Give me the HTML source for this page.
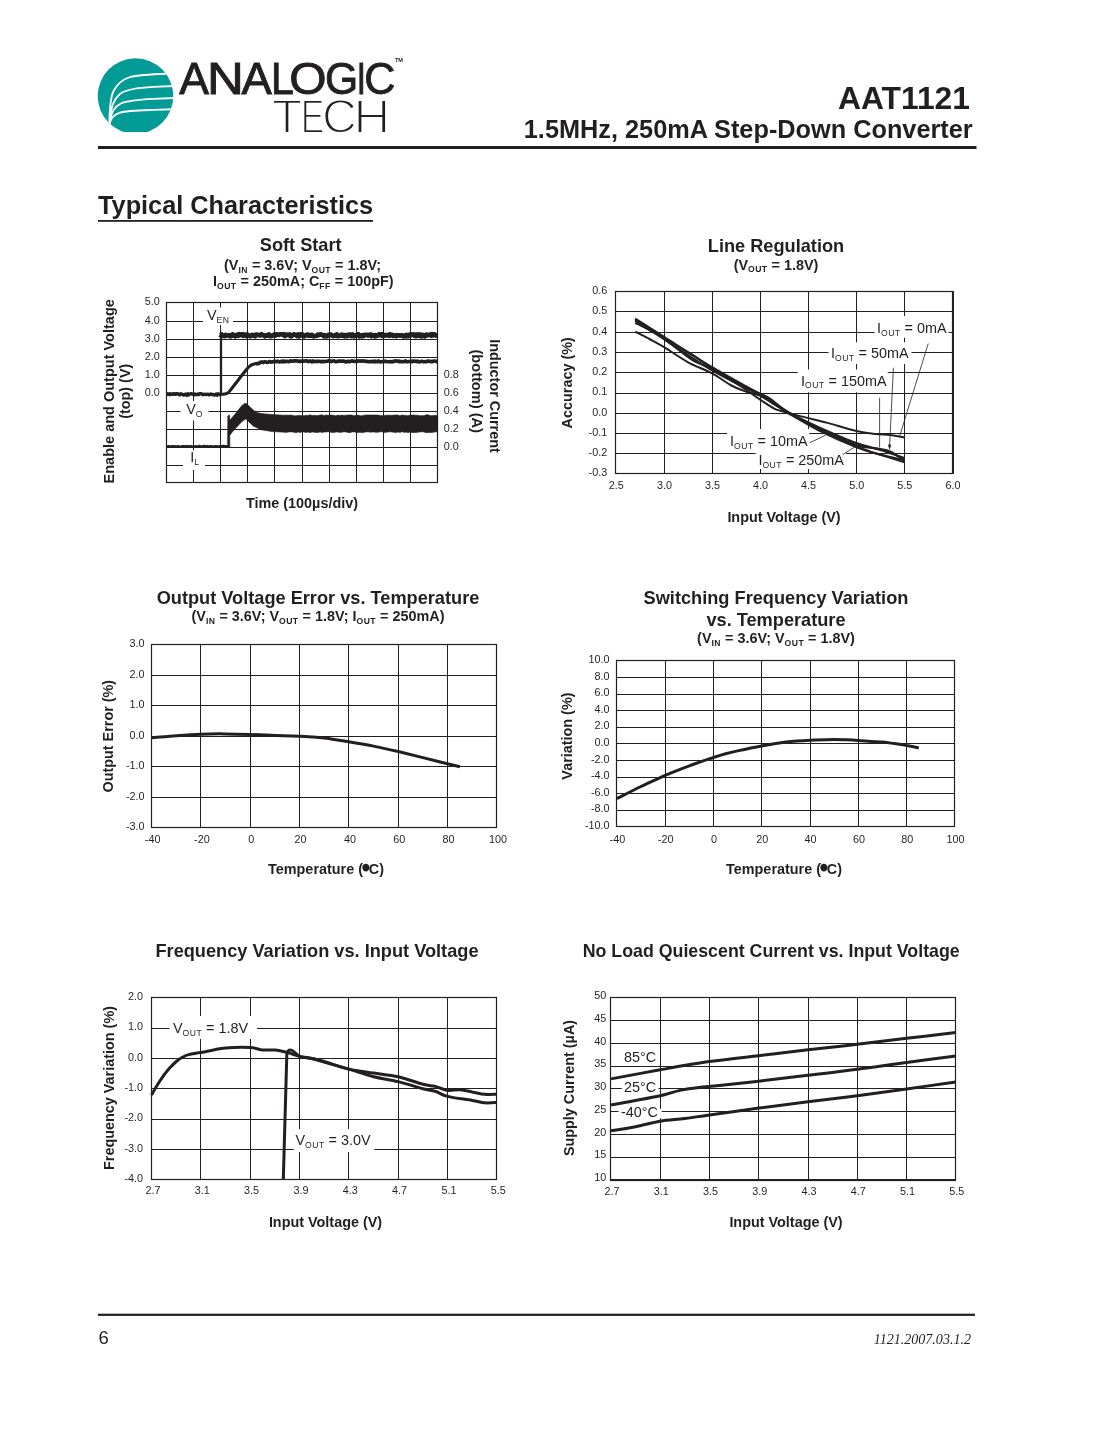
<!DOCTYPE html>
<html lang="en"><head><meta charset="utf-8"><title>AAT1121 Typical Characteristics</title>
<style>
html,body{margin:0;padding:0;background:#fff}
svg{display:block}
text{font-family:"Liberation Sans", sans-serif;fill:#231f20}
</style></head><body>
<svg width="1105" height="1430" viewBox="0 0 1105 1430">
<rect width="1105" height="1430" fill="#fff"/>
<defs><clipPath id="lc"><rect x="90" y="50" width="100" height="82"/></clipPath><clipPath id="lc2"><circle cx="135.5" cy="96.1" r="37.8"/></clipPath></defs>
<g clip-path="url(#lc)"><circle cx="135.5" cy="96.1" r="37.8" fill="#029b96"/>
<g clip-path="url(#lc2)" fill="none" stroke="#fff" stroke-width="1.8" stroke-linecap="round">
<path d="M109.3 123C109.6 108 110.5 97 113.6 91C117.5 83.5 123 79.3 130 77C141 74.3 155 74.2 175 73.4"/>
<path d="M110 119C110.6 108 113.5 99.5 119.9 94C127 88.8 139 87.6 153.3 86.9L176 85.9"/>
<path d="M110.2 121C111 112 115 106.5 120.8 103.5C128 100.4 140 99.6 153.3 98.9L176 97.9"/>
<path d="M109.8 124C110.5 118.5 114 114.6 119.9 112.6C126 110.7 139 110.4 153.3 109.9L176 109.2"/>
</g></g>
<text y="93.75" font-size="44" lengthAdjust="spacingAndGlyphs" stroke="#231f20" stroke-width="0.9"><tspan x="179.2" textLength="29.7" lengthAdjust="spacingAndGlyphs">A</tspan><tspan x="207.1" textLength="36.8" lengthAdjust="spacingAndGlyphs">N</tspan><tspan x="241.6" textLength="30.3" lengthAdjust="spacingAndGlyphs">A</tspan><tspan x="270.9" textLength="22.8" lengthAdjust="spacingAndGlyphs">L</tspan><tspan x="289.2" textLength="37.3" lengthAdjust="spacingAndGlyphs">O</tspan><tspan x="325.1" textLength="33.2" lengthAdjust="spacingAndGlyphs">G</tspan><tspan x="356.8" textLength="9.2" lengthAdjust="spacingAndGlyphs">I</tspan><tspan x="364.2" textLength="31.1" lengthAdjust="spacingAndGlyphs">C</tspan></text>
<text y="132.9" font-size="47.7" stroke="#fff" stroke-width="1.8"><tspan x="272.1" textLength="30.1" lengthAdjust="spacingAndGlyphs">T</tspan><tspan x="300.7" textLength="23.6" lengthAdjust="spacingAndGlyphs">E</tspan><tspan x="322.0" textLength="34.9" lengthAdjust="spacingAndGlyphs">C</tspan><tspan x="353.4" textLength="36.7" lengthAdjust="spacingAndGlyphs">H</tspan></text>
<text x="394.9" y="62.4" font-size="5.6" font-weight="bold">TM</text>
<text x="970" y="108.6" font-size="31.8" font-weight="bold" text-anchor="end">AAT1121</text>
<text x="972.7" y="137.7" font-size="25.3" font-weight="bold" text-anchor="end">1.5MHz, 250mA Step-Down Converter</text>
<rect x="98" y="146" width="878.5" height="3" fill="#231f20"/>
<text x="98" y="213.7" font-size="25.3" font-weight="bold">Typical Characteristics</text>
<rect x="98" y="220" width="275" height="1.8" fill="#231f20"/>
<rect x="98" y="1313.7" width="877" height="2.2" fill="#231f20"/>
<text x="98.6" y="1344.4" font-size="18.4">6</text>
<text x="971" y="1343.7" font-size="14.05" text-anchor="end" font-style="italic" style="font-family:'Liberation Serif',serif">1121.2007.03.1.2</text>
<text x="300.7" y="251" font-size="18.2" font-weight="bold" text-anchor="middle">Soft Start</text>
<text x="302.6" y="269.6" font-size="14.4" font-weight="bold" text-anchor="middle">(V<tspan font-size="8.6" dy="2.9" letter-spacing="0.45">IN</tspan><tspan dy="-2.9"> = 3.6V; V</tspan><tspan font-size="8.6" dy="2.9" letter-spacing="0.45">OUT</tspan><tspan dy="-2.9"> = 1.8V;</tspan></text>
<text x="303.3" y="285.8" font-size="14.4" font-weight="bold" text-anchor="middle">I<tspan font-size="8.6" dy="2.9" letter-spacing="0.45">OUT</tspan><tspan dy="-2.9"> = 250mA; C</tspan><tspan font-size="8.6" dy="2.9" letter-spacing="0.45">FF</tspan><tspan dy="-2.9"> = 100pF)</tspan></text>
<path d="M193.5 302.5V482.5M220.5 302.5V482.5M247.5 302.5V482.5M274.5 302.5V482.5M302.5 302.5V482.5M329.5 302.5V482.5M356.5 302.5V482.5M383.5 302.5V482.5M410.5 302.5V482.5M166.5 321.5H437.6M166.5 339.5H437.6M166.5 357.5H437.6M166.5 375.5H437.6M166.5 393.5H437.6M166.5 411.5H437.6M166.5 429.5H437.6M166.5 447.5H437.6M166.5 465.5H437.6" stroke="#231f20" stroke-width="1.0" fill="none"/>
<rect x="166.5" y="302.5" width="271" height="180" stroke="#231f20" stroke-width="1.2" fill="none"/>
<text x="159.7" y="304.7" font-size="10.8" text-anchor="end">5.0</text>
<text x="159.7" y="323.7" font-size="10.8" text-anchor="end">4.0</text>
<text x="159.7" y="341.7" font-size="10.8" text-anchor="end">3.0</text>
<text x="159.7" y="359.7" font-size="10.8" text-anchor="end">2.0</text>
<text x="159.7" y="377.7" font-size="10.8" text-anchor="end">1.0</text>
<text x="159.7" y="395.7" font-size="10.8" text-anchor="end">0.0</text>
<text x="443.8" y="377.7" font-size="10.8">0.8</text>
<text x="443.8" y="395.7" font-size="10.8">0.6</text>
<text x="443.8" y="413.7" font-size="10.8">0.4</text>
<text x="443.8" y="431.7" font-size="10.8">0.2</text>
<text x="443.8" y="449.7" font-size="10.8">0.0</text>
<rect x="203" y="307.5" width="30" height="17.5" fill="#fff"/>
<text x="207" y="320" font-size="14.4">V<tspan font-size="8.6" dy="2.9" letter-spacing="0.45">EN</tspan></text>
<rect x="180.5" y="401" width="28" height="19.5" fill="#fff"/>
<text x="186.2" y="413.8" font-size="14.4">V<tspan font-size="8.6" dy="2.9" letter-spacing="0.45">O</tspan></text>
<rect x="183" y="450.5" width="22" height="19.5" fill="#fff"/>
<text x="190.2" y="462.4" font-size="14.4">I<tspan font-size="8.6" dy="2.9" letter-spacing="0.45">L</tspan></text>
<path d="M166.5 394.1L167.5 393.8L168.5 394.6L169.5 393.7L170.5 394.5L171.5 394.2L172.6 393.7L173.6 394.4L174.6 393.7L175.6 394.3L176.6 393.7L177.6 393.7L178.6 394.3L179.6 394.9L180.6 393.8L181.6 394.0L182.6 394.6L183.7 395.1L184.7 394.5L185.7 394.2L186.7 395.2L187.7 393.7L188.7 395.0L189.7 394.1L190.7 393.8L191.7 393.8L192.7 394.1L193.8 394.9L194.8 393.9L195.8 394.5L196.8 394.6L197.8 394.2L198.8 394.5L199.8 393.7L200.8 393.7L201.8 393.9L202.8 394.7L203.8 394.3L204.9 394.1L205.9 394.5L206.9 394.3L207.9 394.1L208.9 394.9L209.9 394.7L210.9 394.0L211.9 394.5L212.9 394.4L213.9 395.0L214.9 394.8L216.0 394.1L217.0 395.2L218.0 393.8L219.0 394.3L220.0 394.8L221.0 394.4" stroke="#231f20" stroke-width="3.4" fill="none" stroke-linejoin="round"/>
<path d="M221 395V334" stroke="#231f20" stroke-width="2.3" fill="none"/>
<path d="M220.0 334.5L220.8 335.3L221.6 334.3L222.4 335.7L223.2 335.9L224.0 335.5L224.8 336.1L225.6 334.9L226.4 335.7L227.2 335.5L228.0 335.5L228.8 335.2L229.6 336.0L230.4 336.3L231.2 335.2L232.0 335.7L232.8 334.3L233.6 335.7L234.4 335.6L235.2 336.4L236.0 336.0L236.8 334.8L237.6 335.0L238.4 335.7L239.2 334.2L240.0 335.2L240.8 334.6L241.6 334.5L242.4 334.3L243.2 335.9L244.0 334.5L244.8 334.7L245.6 335.1L246.4 336.1L247.2 334.4L248.0 335.2L248.8 335.4L249.6 336.1L250.4 336.0L251.2 336.1L252.0 334.8L252.8 335.1L253.6 335.0L254.4 336.1L255.2 336.3L256.0 334.5L256.8 334.6L257.6 334.7L258.4 334.7L259.2 335.3L260.0 335.5L260.8 334.8L261.6 334.2L262.4 335.1L263.2 335.0L264.0 335.4L264.8 336.3L265.6 335.7L266.4 335.3L267.2 335.6L268.0 335.7L268.8 334.3L269.6 336.2L270.4 335.9L271.2 336.1L272.0 336.0L272.8 335.1L273.6 335.1L274.4 334.4L275.2 335.6L276.0 334.3L276.8 334.3L277.6 334.7L278.4 334.6L279.2 334.9L280.0 334.3L280.8 334.2L281.6 334.5L282.4 334.4L283.2 335.0L284.0 334.3L284.8 336.1L285.6 335.6L286.4 334.5L287.2 334.8L288.0 335.0L288.8 335.0L289.6 334.5L290.4 336.1L291.2 336.4L292.0 335.2L292.8 335.3L293.6 334.4L294.4 334.4L295.2 335.0L296.0 334.8L296.8 336.0L297.6 334.6L298.4 334.3L299.2 336.3L300.0 335.4L300.8 334.5L301.6 335.4L302.4 334.3L303.2 335.4L304.0 336.4L304.8 336.1L305.6 335.7L306.4 334.8L307.2 335.0L308.0 334.6L308.8 335.9L309.6 335.4L310.4 335.9L311.2 334.9L312.0 334.7L312.8 336.0L313.6 336.4L314.4 336.1L315.2 336.0L316.0 336.0L316.8 335.8L317.6 334.7L318.4 335.3L319.2 335.0L320.0 334.3L320.8 334.3L321.6 334.8L322.4 334.8L323.2 335.7L324.0 336.3L324.8 335.2L325.6 336.3L326.4 336.4L327.2 336.3L328.0 335.0L328.8 334.7L329.6 334.7L330.4 334.6L331.2 334.6L332.0 335.6L332.8 336.2L333.6 336.0L334.4 335.3L335.2 335.6L336.0 336.0L336.8 334.4L337.6 335.7L338.4 336.2L339.2 335.9L340.0 335.9L340.8 335.3L341.6 334.6L342.4 335.9L343.2 334.9L344.0 336.0L344.8 336.3L345.6 335.1L346.4 335.1L347.2 336.3L348.0 335.8L348.8 334.6L349.6 334.5L350.4 334.5L351.2 336.2L352.0 336.0L352.8 334.5L353.6 336.0L354.4 336.4L355.2 335.6L356.0 335.0L356.8 335.4L357.6 334.5L358.4 334.2L359.2 336.3L360.0 335.6L360.8 335.4L361.6 336.3L362.4 335.2L363.2 336.1L364.0 336.0L364.8 334.7L365.6 334.8L366.4 334.8L367.2 334.7L368.0 335.5L368.8 334.8L369.6 335.1L370.4 334.5L371.2 336.2L372.0 335.0L372.8 335.2L373.6 335.5L374.4 336.2L375.2 335.1L376.0 336.2L376.8 335.3L377.6 335.4L378.4 335.4L379.2 334.2L380.0 335.2L380.8 334.6L381.6 334.2L382.4 336.0L383.2 334.6L384.0 335.2L384.8 335.8L385.6 335.4L386.4 334.9L387.2 335.3L388.0 335.4L388.8 335.9L389.6 334.4L390.4 335.4L391.2 334.7L392.0 334.8L392.8 335.9L393.6 335.3L394.4 335.4L395.2 335.9L396.0 336.2L396.8 335.2L397.6 335.5L398.4 335.3L399.2 335.3L400.0 335.7L400.8 335.2L401.6 335.4L402.4 335.3L403.2 336.3L404.0 335.7L404.8 336.1L405.6 336.3L406.4 334.8L407.2 335.4L408.0 336.3L408.8 336.0L409.6 334.5L410.4 334.5L411.2 335.2L412.0 334.4L412.8 334.7L413.6 334.4L414.4 335.7L415.2 335.9L416.0 336.2L416.8 334.5L417.6 335.8L418.4 335.7L419.2 334.5L420.0 336.1L420.8 336.3L421.6 334.7L422.4 336.3L423.2 335.1L424.0 335.3L424.8 336.4L425.6 336.0L426.4 334.6L427.2 335.1L428.0 335.3L428.8 334.9L429.6 334.6L430.4 334.9L431.2 335.8L432.0 334.2L432.8 335.4L433.6 335.2L434.4 334.2L435.2 334.9L436.0 335.6L436.8 335.3L437.6 335.3" stroke="#231f20" stroke-width="4.6" fill="none" stroke-linejoin="round"/>
<path d="M220.0 394.2C220.8 394.2 223.7 394.2 225.0 394.0C226.3 393.8 227.1 393.5 228.0 392.8C228.9 392.1 227.4 393.9 230.5 390.0C233.6 386.1 243.2 373.5 246.5 369.5C249.8 365.5 248.9 366.9 250.0 366.0C251.1 365.1 252.0 364.8 253.0 364.4C254.0 364.0 255.2 363.7 256.0 363.5C256.8 363.3 257.7 363.2 258.0 363.1" stroke="#231f20" stroke-width="3.1" fill="none"/>
<path d="M256.0 363.0L257.0 363.9L258.0 363.5L259.0 363.5L260.0 362.3L261.0 362.3L262.0 361.9L263.0 362.6L264.0 362.0L265.0 361.8L266.0 362.0L267.0 362.5L268.0 362.3L269.0 361.6L270.0 361.5L271.0 362.2L272.0 361.8L273.0 361.9L274.0 361.2L275.0 361.1L276.0 361.8L277.0 361.5L278.0 361.1L279.0 362.0L280.0 361.7L281.0 361.8L282.0 361.0L283.0 361.8L284.0 361.0L285.0 361.8L286.0 361.3L287.0 361.2L288.0 361.4L289.0 361.8L290.0 361.0L291.0 360.9L292.0 361.3L293.0 361.0L294.0 360.9L295.0 360.9L296.0 360.8L297.0 361.0L298.0 361.1L299.0 361.1L300.0 361.6L301.0 361.1L302.0 361.3L303.1 361.0L304.1 361.2L305.1 360.8L306.1 361.0L307.1 360.8L308.1 361.6L309.1 361.4L310.1 361.0L311.1 361.3L312.1 361.8L313.1 360.9L314.1 361.7L315.1 361.3L316.1 361.3L317.1 361.7L318.1 361.2L319.1 361.3L320.1 361.5L321.1 361.9L322.1 361.2L323.1 361.7L324.1 361.6L325.1 361.5L326.1 361.2L327.2 361.2L328.2 360.9L329.2 360.9L330.2 360.9L331.2 361.6L332.2 361.1L333.2 361.0L334.2 360.9L335.2 361.7L336.2 361.8L337.2 361.6L338.2 361.1L339.2 361.1L340.2 361.1L341.2 361.3L342.2 361.0L343.2 361.3L344.2 361.1L345.2 361.9L346.2 361.9L347.2 361.4L348.2 361.1L349.2 361.9L350.2 361.2L351.2 361.2L352.3 360.8L353.3 361.3L354.3 361.4L355.3 361.4L356.3 361.1L357.3 361.4L358.3 360.8L359.3 361.1L360.3 360.9L361.3 361.3L362.3 360.9L363.3 360.9L364.3 361.2L365.3 361.1L366.3 361.5L367.3 361.4L368.3 361.7L369.3 361.6L370.3 361.6L371.3 361.8L372.3 361.3L373.3 361.2L374.3 361.9L375.3 361.0L376.4 361.7L377.4 361.6L378.4 360.9L379.4 361.8L380.4 361.9L381.4 361.6L382.4 361.7L383.4 361.8L384.4 361.0L385.4 361.5L386.4 361.4L387.4 361.8L388.4 361.8L389.4 361.8L390.4 361.5L391.4 361.9L392.4 361.6L393.4 361.7L394.4 361.1L395.4 360.9L396.4 361.0L397.4 361.3L398.4 361.0L399.4 361.8L400.4 361.5L401.5 361.6L402.5 361.6L403.5 361.7L404.5 361.4L405.5 360.9L406.5 361.8L407.5 361.7L408.5 361.5L409.5 361.5L410.5 361.6L411.5 361.0L412.5 361.7L413.5 361.2L414.5 361.0L415.5 361.2L416.5 361.7L417.5 361.1L418.5 361.7L419.5 362.0L420.5 361.5L421.5 361.3L422.5 361.5L423.5 361.7L424.5 361.8L425.6 361.6L426.6 361.6L427.6 361.0L428.6 361.1L429.6 361.2L430.6 361.8L431.6 361.3L432.6 361.6L433.6 361.0L434.6 361.0L435.6 361.2L436.6 361.7L437.6 361.5" stroke="#231f20" stroke-width="3.6" fill="none" stroke-linejoin="round"/>
<path d="M166.5 446.5L167.5 446.5L168.5 446.3L169.5 446.4L170.5 446.4L171.5 446.4L172.5 446.1L173.6 446.7L174.6 446.2L175.6 446.7L176.6 446.7L177.6 446.1L178.6 446.4L179.6 446.6L180.6 446.7L181.6 446.4L182.6 446.2L183.6 446.2L184.6 446.7L185.7 446.2L186.7 446.5L187.7 446.1L188.7 446.4L189.7 446.7L190.7 446.1L191.7 446.6L192.7 446.4L193.7 446.7L194.7 446.5L195.7 446.2L196.7 446.7L197.8 446.4L198.8 446.1L199.8 446.1L200.8 446.4L201.8 446.4L202.8 446.3L203.8 446.1L204.8 446.3L205.8 446.3L206.8 446.6L207.8 446.1L208.8 446.6L209.8 446.6L210.9 446.1L211.9 446.7L212.9 446.5L213.9 446.7L214.9 446.3L215.9 446.3L216.9 446.3L217.9 446.7L218.9 446.5L219.9 446.3L220.9 446.3L221.9 446.2L223.0 446.1L224.0 446.1L225.0 446.6L226.0 446.2L227.0 446.7L228.0 446.2L229.0 446.4" stroke="#231f20" stroke-width="2.5" fill="none" stroke-linejoin="round"/>
<path d="M227.6 447.6L227.8 416.0L229.6 415.0L229.8 420.0L231.5 418.3L236.0 413.0L241.0 406.5L244.5 403.4L246.5 403.6L250.0 407.0L255.6 412.0L260.0 413.3L265.7 413.9L275.0 414.7L284.6 415.2L286.0 415.1L288.0 415.3L290.0 415.0L292.0 415.2L294.0 415.8L296.0 415.7L298.0 415.6L300.0 415.4L302.0 415.7L304.0 415.7L306.0 415.3L308.0 415.5L310.0 414.8L312.0 415.5L314.0 415.3L316.0 415.6L318.0 415.4L320.0 415.1L322.0 414.8L324.0 415.7L326.0 414.9L328.0 415.3L330.0 415.1L332.0 415.1L334.0 415.5L336.0 415.8L338.0 415.1L340.0 415.5L342.0 415.1L344.0 415.4L346.0 415.2L348.0 415.0L350.0 415.0L352.0 415.0L354.0 415.7L356.0 415.3L358.0 415.0L360.0 415.7L362.0 415.8L364.0 415.2L366.0 414.9L368.0 415.0L370.0 414.9L372.0 415.1L374.0 414.9L376.0 415.0L378.0 415.1L380.0 415.4L382.0 415.7L384.0 415.5L386.0 415.2L388.0 415.2L390.0 415.3L392.0 415.2L394.0 415.1L396.0 414.9L398.0 415.1L400.0 415.8L402.0 414.9L404.0 415.3L406.0 415.4L408.0 415.7L410.0 415.0L412.0 415.1L414.0 415.0L416.0 415.2L418.0 415.2L420.0 415.8L422.0 415.6L424.0 415.7L426.0 414.8L428.0 414.8L430.0 415.5L432.0 415.7L434.0 415.3L436.0 415.4L437.6 415.3L437.6 432.2L436.0 431.7L434.0 432.1L432.0 432.6L430.0 432.5L428.0 432.6L426.0 432.7L424.0 431.9L422.0 431.8L420.0 431.9L418.0 432.2L416.0 432.4L414.0 432.6L412.0 432.4L410.0 432.3L408.0 432.5L406.0 432.2L404.0 432.3L402.0 431.7L400.0 432.5L398.0 431.9L396.0 432.6L394.0 432.3L392.0 432.0L390.0 431.8L388.0 432.0L386.0 432.3L384.0 432.4L382.0 431.8L380.0 431.8L378.0 432.2L376.0 432.3L374.0 432.1L372.0 431.9L370.0 432.3L368.0 431.7L366.0 432.0L364.0 432.2L362.0 432.7L360.0 432.3L358.0 432.6L356.0 432.2L354.0 431.9L352.0 431.9L350.0 432.7L348.0 432.4L346.0 432.0L344.0 431.7L342.0 432.2L340.0 432.4L338.0 432.1L336.0 432.0L334.0 432.4L332.0 432.6L330.0 431.9L328.0 431.7L326.0 432.0L324.0 432.1L322.0 432.4L320.0 431.9L318.0 432.5L316.0 432.4L314.0 432.2L312.0 431.9L310.0 432.7L308.0 432.0L306.0 432.5L304.0 431.9L302.0 431.9L300.0 432.5L298.0 432.0L296.0 432.7L294.0 432.2L292.0 431.9L290.0 431.9L288.0 432.1L286.0 432.4L284.6 432.2L272.0 431.6L260.7 429.7L253.1 425.9L248.0 421.0L245.6 419.0L242.0 421.5L235.5 428.4L231.5 433.0L229.8 435.5L229.8 447.6Z" fill="#231f20" stroke="#231f20" stroke-width="0.6" stroke-linejoin="round"/>
<text font-size="14.5" font-weight="bold" text-anchor="middle" transform="translate(113.8 391.3) rotate(-90)">Enable and Output Voltage</text>
<text font-size="14.4" font-weight="bold" text-anchor="middle" transform="translate(130.3 391.3) rotate(-90)">(top) (V)</text>
<text font-size="14.4" font-weight="bold" text-anchor="middle" transform="translate(489.5 396) rotate(90)">Inductor Current</text>
<text font-size="14.6" font-weight="bold" text-anchor="middle" transform="translate(471.8 391.2) rotate(90)">(bottom) (A)</text>
<text x="302" y="507.5" font-size="14.4" font-weight="bold" text-anchor="middle">Time (100µs/div)</text>
<text x="776" y="252" font-size="18.2" font-weight="bold" text-anchor="middle">Line Regulation</text>
<text x="776" y="269.5" font-size="14.4" font-weight="bold" text-anchor="middle">(V<tspan font-size="8.6" dy="2.9" letter-spacing="0.45">OUT</tspan><tspan dy="-2.9"> = 1.8V)</tspan></text>
<path d="M664.5 291.5V473.5M712.5 291.5V473.5M760.5 291.5V473.5M808.5 291.5V473.5M856.5 291.5V473.5M904.5 291.5V473.5M616 311.5H952.6M616 332.5H952.6M616 352.5H952.6M616 372.5H952.6M616 393.5H952.6M616 413.5H952.6M616 433.5H952.6M616 453.5H952.6" stroke="#231f20" stroke-width="1.0" fill="none"/>
<rect x="615.5" y="291.5" width="337" height="182" stroke="#231f20" stroke-width="1.2" fill="none"/>
<text x="607.2" y="476.2" font-size="10.8" text-anchor="end">-0.3</text>
<text x="607.2" y="456" font-size="10.8" text-anchor="end">-0.2</text>
<text x="607.2" y="435.8" font-size="10.8" text-anchor="end">-0.1</text>
<text x="607.2" y="415.5" font-size="10.8" text-anchor="end">0.0</text>
<text x="607.2" y="395.3" font-size="10.8" text-anchor="end">0.1</text>
<text x="607.2" y="375.1" font-size="10.8" text-anchor="end">0.2</text>
<text x="607.2" y="354.9" font-size="10.8" text-anchor="end">0.3</text>
<text x="607.2" y="334.6" font-size="10.8" text-anchor="end">0.4</text>
<text x="607.2" y="314.4" font-size="10.8" text-anchor="end">0.5</text>
<text x="607.2" y="294.2" font-size="10.8" text-anchor="end">0.6</text>
<path d="M953 291V474" stroke="#231f20" stroke-width="2"/>
<text x="616.2" y="489.1" font-size="10.8" text-anchor="middle">2.5</text>
<text x="664.4" y="489.1" font-size="10.8" text-anchor="middle">3.0</text>
<text x="712.4" y="489.1" font-size="10.8" text-anchor="middle">3.5</text>
<text x="760.5" y="489.1" font-size="10.8" text-anchor="middle">4.0</text>
<text x="808.6" y="489.1" font-size="10.8" text-anchor="middle">4.5</text>
<text x="856.8" y="489.1" font-size="10.8" text-anchor="middle">5.0</text>
<text x="904.8" y="489.1" font-size="10.8" text-anchor="middle">5.5</text>
<text x="952.9" y="489.1" font-size="10.8" text-anchor="middle">6.0</text>
<rect x="874.6" y="316" width="73.9" height="21.7" fill="#fff"/>
<rect x="828.5" y="342.3" width="83" height="21.7" fill="#fff"/>
<rect x="797.7" y="369.5" width="90" height="22.8" fill="#fff"/>
<rect x="727.2" y="429" width="82" height="21.7" fill="#fff"/>
<rect x="755.7" y="449" width="90.3" height="20" fill="#fff"/>
<path d="M928.2 343.6L899.6 436.3" stroke="#231f20" stroke-width="0.8" fill="none"/>
<path d="M893.4 367.7L889.6 446" stroke="#231f20" stroke-width="0.8" fill="none"/>
<path d="M888 444.6L889.5 450.2L891.2 444.8Z" fill="#231f20"/>
<path d="M879.6 397.8L879.6 447.4" stroke="#231f20" stroke-width="0.8" fill="none"/>
<path d="M810 442.7L825.5 435.2" stroke="#231f20" stroke-width="0.8" fill="none"/>
<path d="M842.6 454.7L854.6 447.1" stroke="#231f20" stroke-width="0.8" fill="none"/>
<path d="M635.2 331.7C637.6 333.0 644.8 336.5 649.6 339.0C654.4 341.6 657.6 343.2 664.1 347.1C670.5 351.0 680.1 357.9 688.1 362.3C696.1 366.7 704.9 369.5 712.1 373.4C719.4 377.3 725.8 382.5 731.4 385.5C737.0 388.6 741.0 389.9 745.8 391.6C750.6 393.3 755.4 393.5 760.2 395.6C765.1 397.8 769.9 401.9 774.7 404.7C779.5 407.6 784.3 410.8 789.1 412.8C793.9 414.9 797.1 415.2 803.5 416.9C810.0 418.6 818.8 420.6 827.6 422.9C836.4 425.3 848.4 429.2 856.5 431.0C864.5 432.9 870.1 433.4 875.7 434.1C881.3 434.7 885.3 434.5 890.1 435.1C894.9 435.7 902.1 437.1 904.5 437.5" stroke="#231f20" stroke-width="2.0" fill="none" stroke-linecap="butt" stroke-linejoin="round"/>
<path d="M635.2 318.8C640.0 321.8 651.2 328.9 664.1 337.0C676.9 345.1 696.1 357.7 712.1 367.3C728.2 376.9 747.4 387.1 760.2 394.6C773.1 402.2 779.5 407.4 789.1 412.8C798.7 418.2 806.7 421.9 818.0 427.0C829.2 432.0 845.2 439.1 856.5 443.2C867.7 447.2 877.3 448.7 885.3 451.3C893.3 453.8 901.3 457.2 904.5 458.3" stroke="#231f20" stroke-width="2.3" fill="none" stroke-linecap="butt" stroke-linejoin="round"/>
<path d="M635.2 319.8C640.0 322.8 654.4 332.1 664.1 338.0C673.7 343.9 684.9 350.1 692.9 355.2C700.9 360.3 704.1 363.5 712.1 368.3C720.2 373.2 733.0 380.3 741.0 384.5C749.0 388.7 755.4 391.3 760.2 393.6C765.1 396.0 765.1 395.5 769.9 398.7C774.7 401.9 781.1 407.9 789.1 412.8C797.1 417.7 806.7 422.6 818.0 428.0C829.2 433.4 846.8 441.8 856.5 445.2C866.1 448.6 870.1 447.2 875.7 448.2C881.3 449.2 885.3 449.1 890.1 451.3C894.9 453.4 902.1 459.7 904.5 461.4" stroke="#231f20" stroke-width="2.0" fill="none" stroke-linecap="butt" stroke-linejoin="round"/>
<path d="M635.2 322.8C638.4 324.5 648.0 329.1 654.4 333.0C660.8 336.8 667.3 341.6 673.7 346.1C680.1 350.7 686.5 356.4 692.9 360.3C699.3 364.1 704.1 365.0 712.1 369.4C720.2 373.7 733.0 381.5 741.0 386.5C749.0 391.6 754.6 396.0 760.2 399.7C765.9 403.4 769.9 406.4 774.7 408.8C779.5 411.1 781.9 410.3 789.1 413.8C796.3 417.4 806.7 424.5 818.0 430.0C829.2 435.6 845.2 442.8 856.5 447.2C867.7 451.6 877.3 453.8 885.3 456.3C893.3 458.8 901.3 461.4 904.5 462.4" stroke="#231f20" stroke-width="2.0" fill="none" stroke-linecap="butt" stroke-linejoin="round"/>
<path d="M635.2 320.8C640.0 323.9 651.2 330.8 664.1 339.0C676.9 347.3 696.1 360.9 712.1 370.4C728.2 379.8 747.4 388.5 760.2 395.6C773.1 402.8 779.5 407.7 789.1 413.2C798.7 418.8 806.7 423.5 818.0 429.0C829.2 434.5 846.8 442.2 856.5 446.2C866.1 450.2 867.7 450.9 875.7 453.3C883.7 455.6 899.7 459.2 904.5 460.4" stroke="#231f20" stroke-width="2.0" fill="none" stroke-linecap="butt" stroke-linejoin="round"/>
<text x="877" y="332.6" font-size="14.4">I<tspan font-size="8.6" dy="2.9" letter-spacing="0.45">OUT</tspan><tspan dy="-2.9"> = 0mA</tspan></text>
<text x="831" y="357.7" font-size="14.4">I<tspan font-size="8.6" dy="2.9" letter-spacing="0.45">OUT</tspan><tspan dy="-2.9"> = 50mA</tspan></text>
<text x="801" y="385.5" font-size="14.4">I<tspan font-size="8.6" dy="2.9" letter-spacing="0.45">OUT</tspan><tspan dy="-2.9"> = 150mA</tspan></text>
<text x="730" y="446.4" font-size="14.4">I<tspan font-size="8.6" dy="2.9" letter-spacing="0.45">OUT</tspan><tspan dy="-2.9"> = 10mA</tspan></text>
<text x="758.4" y="465" font-size="14.4">I<tspan font-size="8.6" dy="2.9" letter-spacing="0.45">OUT</tspan><tspan dy="-2.9"> = 250mA</tspan></text>
<text font-size="14.4" font-weight="bold" text-anchor="middle" transform="translate(572.2 382.8) rotate(-90)">Accuracy (%)</text>
<text x="784" y="522" font-size="14.4" font-weight="bold" text-anchor="middle">Input Voltage (V)</text>
<text x="318" y="604" font-size="18.2" font-weight="bold" text-anchor="middle">Output Voltage Error vs. Temperature</text>
<text x="318" y="621" font-size="14.4" font-weight="bold" text-anchor="middle">(V<tspan font-size="8.6" dy="2.9" letter-spacing="0.45">IN</tspan><tspan dy="-2.9"> = 3.6V; V</tspan><tspan font-size="8.6" dy="2.9" letter-spacing="0.45">OUT</tspan><tspan dy="-2.9"> = 1.8V; I</tspan><tspan font-size="8.6" dy="2.9" letter-spacing="0.45">OUT</tspan><tspan dy="-2.9"> = 250mA)</tspan></text>
<path d="M200.5 644.8V827.8M250.5 644.8V827.8M299.5 644.8V827.8M348.5 644.8V827.8M398.5 644.8V827.8M447.5 644.8V827.8M151.6 675.5H496.9M151.6 705.5H496.9M151.6 736.5H496.9M151.6 766.5H496.9M151.6 797.5H496.9" stroke="#231f20" stroke-width="1.0" fill="none"/>
<rect x="151.5" y="644.5" width="345" height="183" stroke="#231f20" stroke-width="1.2" fill="none"/>
<text x="144.6" y="830" font-size="10.8" text-anchor="end">-3.0</text>
<text x="144.6" y="799.5" font-size="10.8" text-anchor="end">-2.0</text>
<text x="144.6" y="769" font-size="10.8" text-anchor="end">-1.0</text>
<text x="144.6" y="738.5" font-size="10.8" text-anchor="end">0.0</text>
<text x="144.6" y="708" font-size="10.8" text-anchor="end">1.0</text>
<text x="144.6" y="677.5" font-size="10.8" text-anchor="end">2.0</text>
<text x="144.6" y="647" font-size="10.8" text-anchor="end">3.0</text>
<text x="152.6" y="842.9" font-size="10.8" text-anchor="middle">-40</text>
<text x="201.9" y="842.9" font-size="10.8" text-anchor="middle">-20</text>
<text x="251.3" y="842.9" font-size="10.8" text-anchor="middle">0</text>
<text x="300.6" y="842.9" font-size="10.8" text-anchor="middle">20</text>
<text x="349.9" y="842.9" font-size="10.8" text-anchor="middle">40</text>
<text x="399.2" y="842.9" font-size="10.8" text-anchor="middle">60</text>
<text x="448.6" y="842.9" font-size="10.8" text-anchor="middle">80</text>
<text x="497.9" y="842.9" font-size="10.8" text-anchor="middle">100</text>
<path d="M151.6 737.8C155.7 737.5 168.0 736.3 176.3 735.7C184.5 735.1 192.7 734.5 200.9 734.2C209.1 733.9 217.4 733.8 225.6 733.9C233.8 733.9 242.0 734.2 250.3 734.5C258.5 734.7 266.7 735.1 274.9 735.4C283.1 735.7 293.4 736.0 299.6 736.3C305.8 736.6 307.8 736.6 311.9 736.9C316.0 737.2 318.1 737.3 324.2 738.1C330.4 738.9 340.7 740.5 348.9 741.8C357.1 743.1 365.4 744.4 373.6 746.1C381.8 747.7 390.0 749.6 398.2 751.5C406.5 753.5 412.6 755.1 422.9 757.6C433.2 760.2 453.7 765.3 459.9 766.8" stroke="#231f20" stroke-width="3.0" fill="none" stroke-linecap="butt" stroke-linejoin="round"/>
<text font-size="14.4" font-weight="bold" text-anchor="middle" transform="translate(113.4 736.2) rotate(-90)">Output Error (%)</text>
<text x="326" y="873.5" font-size="14.4" font-weight="bold" text-anchor="middle">Temperature (<tspan stroke="#231f20" stroke-width="2.7" dy="2.4">°</tspan><tspan dy="-2.4">C)</tspan></text>
<text x="776" y="604" font-size="18.2" font-weight="bold" text-anchor="middle">Switching Frequency Variation</text>
<text x="776" y="626" font-size="18.2" font-weight="bold" text-anchor="middle">vs. Temperature</text>
<text x="776" y="643" font-size="14.4" font-weight="bold" text-anchor="middle">(V<tspan font-size="8.6" dy="2.9" letter-spacing="0.45">IN</tspan><tspan dy="-2.9"> = 3.6V; V</tspan><tspan font-size="8.6" dy="2.9" letter-spacing="0.45">OUT</tspan><tspan dy="-2.9"> = 1.8V)</tspan></text>
<path d="M665.5 660.8V826.8M713.5 660.8V826.8M761.5 660.8V826.8M810.5 660.8V826.8M858.5 660.8V826.8M906.5 660.8V826.8M616.9 677.5H955M616.9 694.5H955M616.9 710.5H955M616.9 727.5H955M616.9 743.5H955M616.9 760.5H955M616.9 777.5H955M616.9 793.5H955M616.9 810.5H955" stroke="#231f20" stroke-width="1.0" fill="none"/>
<rect x="616.5" y="660.5" width="338" height="166" stroke="#231f20" stroke-width="1.2" fill="none"/>
<text x="609.5" y="828.9" font-size="10.8" text-anchor="end">-10.0</text>
<text x="609.5" y="812.3" font-size="10.8" text-anchor="end">-8.0</text>
<text x="609.5" y="795.7" font-size="10.8" text-anchor="end">-6.0</text>
<text x="609.5" y="779.1" font-size="10.8" text-anchor="end">-4.0</text>
<text x="609.5" y="762.5" font-size="10.8" text-anchor="end">-2.0</text>
<text x="609.5" y="745.9" font-size="10.8" text-anchor="end">0.0</text>
<text x="609.5" y="729.3" font-size="10.8" text-anchor="end">2.0</text>
<text x="609.5" y="712.7" font-size="10.8" text-anchor="end">4.0</text>
<text x="609.5" y="696.1" font-size="10.8" text-anchor="end">6.0</text>
<text x="609.5" y="679.5" font-size="10.8" text-anchor="end">8.0</text>
<text x="609.5" y="662.9" font-size="10.8" text-anchor="end">10.0</text>
<text x="617.4" y="842.9" font-size="10.8" text-anchor="middle">-40</text>
<text x="665.7" y="842.9" font-size="10.8" text-anchor="middle">-20</text>
<text x="714" y="842.9" font-size="10.8" text-anchor="middle">0</text>
<text x="762.3" y="842.9" font-size="10.8" text-anchor="middle">20</text>
<text x="810.6" y="842.9" font-size="10.8" text-anchor="middle">40</text>
<text x="858.9" y="842.9" font-size="10.8" text-anchor="middle">60</text>
<text x="907.2" y="842.9" font-size="10.8" text-anchor="middle">80</text>
<text x="955.5" y="842.9" font-size="10.8" text-anchor="middle">100</text>
<path d="M616.9 798.6C620.9 796.6 633.0 790.4 641.0 786.5C649.1 782.7 657.1 778.8 665.2 775.3C673.2 771.9 681.3 768.8 689.3 765.8C697.4 762.8 707.5 759.5 713.5 757.5C719.5 755.5 721.5 754.9 725.6 753.8C729.6 752.7 731.6 752.2 737.6 750.9C743.7 749.5 753.7 747.3 761.8 745.9C769.8 744.4 777.9 743.1 785.9 742.1C794.0 741.2 802.0 740.7 810.1 740.3C818.1 739.9 828.2 739.7 834.2 739.6C840.3 739.6 842.3 739.7 846.3 739.8C850.3 740.0 852.4 740.1 858.4 740.5C864.4 740.9 876.5 741.6 882.5 742.1C888.6 742.7 890.6 743.1 894.6 743.6C898.6 744.2 902.7 744.7 906.7 745.5C910.7 746.2 916.8 747.5 918.8 747.9" stroke="#231f20" stroke-width="3.0" fill="none" stroke-linecap="butt" stroke-linejoin="round"/>
<text font-size="14.4" font-weight="bold" text-anchor="middle" transform="translate(572.3 736.1) rotate(-90)">Variation (%)</text>
<text x="784" y="873.5" font-size="14.4" font-weight="bold" text-anchor="middle">Temperature (<tspan stroke="#231f20" stroke-width="2.7" dy="2.4">°</tspan><tspan dy="-2.4">C)</tspan></text>
<text x="317" y="957" font-size="18.2" font-weight="bold" text-anchor="middle">Frequency Variation vs. Input Voltage</text>
<path d="M200.5 997.8V1179.9M250.5 997.8V1179.9M299.5 997.8V1179.9M348.5 997.8V1179.9M398.5 997.8V1179.9M447.5 997.8V1179.9M151.6 1028.5H496.9M151.6 1058.5H496.9M151.6 1088.5H496.9M151.6 1119.5H496.9M151.6 1149.5H496.9" stroke="#231f20" stroke-width="1.0" fill="none"/>
<rect x="151.5" y="997.5" width="345" height="182" stroke="#231f20" stroke-width="1.2" fill="none"/>
<text x="143.1" y="1182" font-size="10.8" text-anchor="end">-4.0</text>
<text x="143.1" y="1151.7" font-size="10.8" text-anchor="end">-3.0</text>
<text x="143.1" y="1121.3" font-size="10.8" text-anchor="end">-2.0</text>
<text x="143.1" y="1090.9" font-size="10.8" text-anchor="end">-1.0</text>
<text x="143.1" y="1060.6" font-size="10.8" text-anchor="end">0.0</text>
<text x="143.1" y="1030.2" font-size="10.8" text-anchor="end">1.0</text>
<text x="143.1" y="999.9" font-size="10.8" text-anchor="end">2.0</text>
<text x="152.9" y="1194" font-size="10.8" text-anchor="middle">2.7</text>
<text x="202.2" y="1194" font-size="10.8" text-anchor="middle">3.1</text>
<text x="251.6" y="1194" font-size="10.8" text-anchor="middle">3.5</text>
<text x="300.9" y="1194" font-size="10.8" text-anchor="middle">3.9</text>
<text x="350.2" y="1194" font-size="10.8" text-anchor="middle">4.3</text>
<text x="399.5" y="1194" font-size="10.8" text-anchor="middle">4.7</text>
<text x="448.9" y="1194" font-size="10.8" text-anchor="middle">5.1</text>
<text x="498.2" y="1194" font-size="10.8" text-anchor="middle">5.5</text>
<rect x="169.5" y="1016" width="87.5" height="23" fill="#fff"/>
<rect x="293.8" y="1129" width="80.5" height="23" fill="#fff"/>
<path d="M151.6 1094.9C152.6 1093.1 155.7 1087.6 157.8 1084.3C159.8 1081.0 161.9 1078.0 163.9 1075.2C166.0 1072.4 168.0 1069.9 170.1 1067.6C172.2 1065.3 174.2 1063.3 176.3 1061.5C178.3 1059.8 180.4 1058.4 182.4 1057.3C184.5 1056.1 185.5 1055.4 188.6 1054.6C191.7 1053.7 196.8 1053.2 200.9 1052.4C205.0 1051.7 209.1 1050.8 213.3 1050.0C217.4 1049.2 219.4 1048.3 225.6 1047.9C231.8 1047.5 244.1 1047.2 250.3 1047.6C256.4 1047.9 258.5 1049.6 262.6 1050.0C266.7 1050.4 270.8 1049.6 274.9 1050.0C279.0 1050.4 283.1 1051.4 287.3 1052.4C291.4 1053.5 295.5 1055.4 299.6 1056.4C303.7 1057.4 307.8 1057.6 311.9 1058.5C316.0 1059.4 318.1 1059.8 324.2 1061.5C330.4 1063.3 340.7 1067.2 348.9 1069.1C357.1 1071.0 365.4 1071.8 373.6 1073.1C381.8 1074.3 390.0 1074.8 398.2 1076.7C406.5 1078.6 416.7 1082.7 422.9 1084.3C429.1 1085.9 431.1 1085.4 435.2 1086.4C439.3 1087.4 443.5 1089.8 447.6 1090.4C451.7 1090.9 455.8 1089.5 459.9 1089.8C464.0 1090.0 468.1 1091.1 472.2 1091.9C476.3 1092.6 480.5 1093.9 484.6 1094.3C488.7 1094.7 494.8 1094.3 496.9 1094.3" stroke="#231f20" stroke-width="3.0" fill="none" stroke-linecap="butt" stroke-linejoin="round"/>
<path d="M311.9 1058.5C314.0 1059.1 318.1 1060.4 324.2 1062.1C330.4 1063.9 340.7 1066.7 348.9 1069.1C357.1 1071.6 365.4 1074.6 373.6 1076.7C381.8 1078.8 390.0 1079.5 398.2 1081.6C406.5 1083.6 416.7 1087.2 422.9 1088.8C429.1 1090.5 431.1 1090.0 435.2 1091.3C439.3 1092.5 441.4 1094.9 447.6 1096.4C453.7 1098.0 466.1 1099.3 472.2 1100.4C478.4 1101.4 480.5 1102.5 484.6 1102.8C488.7 1103.2 494.8 1102.6 496.9 1102.5" stroke="#231f20" stroke-width="3.0" fill="none" stroke-linecap="butt" stroke-linejoin="round"/>
<path d="M283.3 1179.9L286.8 1054.9Q288.1 1047.1 294.0 1051.8L299.6 1056.7L311.9 1058.5" stroke="#231f20" stroke-width="3" fill="none" stroke-linejoin="round"/>
<text x="173" y="1033" font-size="14.4">V<tspan font-size="8.6" dy="2.9" letter-spacing="0.45">OUT</tspan><tspan dy="-2.9"> = 1.8V</tspan></text>
<text x="295.5" y="1145" font-size="14.4">V<tspan font-size="8.6" dy="2.9" letter-spacing="0.45">OUT</tspan><tspan dy="-2.9"> = 3.0V</tspan></text>
<text font-size="14.4" font-weight="bold" text-anchor="middle" transform="translate(113.5 1088) rotate(-90)">Frequency Variation (%)</text>
<text x="325.5" y="1227" font-size="14.4" font-weight="bold" text-anchor="middle">Input Voltage (V)</text>
<text x="771.2" y="956.8" font-size="17.8" font-weight="bold" text-anchor="middle">No Load Quiescent Current vs. Input Voltage</text>
<path d="M660.5 997.8V1180M709.5 997.8V1180M758.5 997.8V1180M808.5 997.8V1180M857.5 997.8V1180M906.5 997.8V1180M611 1020.5H955.8M611 1043.5H955.8M611 1066.5H955.8M611 1088.5H955.8M611 1111.5H955.8M611 1134.5H955.8M611 1157.5H955.8" stroke="#231f20" stroke-width="1.0" fill="none"/>
<rect x="610.5" y="997.5" width="345" height="183" stroke="#231f20" stroke-width="1.2" fill="none"/>
<text x="606.2" y="1181.1" font-size="10.8" text-anchor="end">10</text>
<text x="606.2" y="1158.4" font-size="10.8" text-anchor="end">15</text>
<text x="606.2" y="1135.6" font-size="10.8" text-anchor="end">20</text>
<text x="606.2" y="1112.8" font-size="10.8" text-anchor="end">25</text>
<text x="606.2" y="1090" font-size="10.8" text-anchor="end">30</text>
<text x="606.2" y="1067.2" font-size="10.8" text-anchor="end">35</text>
<text x="606.2" y="1044.5" font-size="10.8" text-anchor="end">40</text>
<text x="606.2" y="1021.7" font-size="10.8" text-anchor="end">45</text>
<text x="606.2" y="998.9" font-size="10.8" text-anchor="end">50</text>
<path d="M610 1180H956" stroke="#231f20" stroke-width="2"/>
<text x="612" y="1195" font-size="10.8" text-anchor="middle">2.7</text>
<text x="661.2" y="1195" font-size="10.8" text-anchor="middle">3.1</text>
<text x="710.5" y="1195" font-size="10.8" text-anchor="middle">3.5</text>
<text x="759.8" y="1195" font-size="10.8" text-anchor="middle">3.9</text>
<text x="809" y="1195" font-size="10.8" text-anchor="middle">4.3</text>
<text x="858.3" y="1195" font-size="10.8" text-anchor="middle">4.7</text>
<text x="907.6" y="1195" font-size="10.8" text-anchor="middle">5.1</text>
<text x="956.8" y="1195" font-size="10.8" text-anchor="middle">5.5</text>
<rect x="621.8" y="1084" width="36.7" height="8" fill="#fff"/>
<rect x="618.6" y="1108.8" width="43.1" height="9.4" fill="#fff"/>
<path d="M611.0 1078.9C619.2 1077.4 643.8 1072.7 660.2 1069.8C676.6 1066.9 693.1 1063.9 709.5 1061.6C725.9 1059.2 742.3 1057.6 758.8 1055.7C775.2 1053.7 791.6 1051.6 808.0 1049.7C824.5 1047.8 840.9 1046.2 857.3 1044.3C873.7 1042.4 890.1 1040.3 906.6 1038.3C923.0 1036.4 947.6 1033.4 955.8 1032.4" stroke="#231f20" stroke-width="3.0" fill="none" stroke-linecap="butt" stroke-linejoin="round"/>
<path d="M611.0 1104.9C615.1 1104.1 627.4 1102.1 635.6 1100.5C643.8 1099.0 652.6 1097.5 660.2 1095.8C667.8 1094.0 674.2 1091.5 681.2 1090.1C688.1 1088.6 695.3 1087.9 702.1 1087.1C708.9 1086.3 712.4 1086.3 721.8 1085.3C731.3 1084.3 744.4 1082.8 758.8 1081.2C773.1 1079.5 791.6 1077.2 808.0 1075.3C824.5 1073.3 840.9 1071.5 857.3 1069.3C873.7 1067.2 890.1 1064.7 906.6 1062.5C923.0 1060.3 947.6 1057.2 955.8 1056.1" stroke="#231f20" stroke-width="3.0" fill="none" stroke-linecap="butt" stroke-linejoin="round"/>
<path d="M611.0 1130.8C615.1 1130.2 627.4 1128.3 635.6 1126.7C643.8 1125.1 652.0 1122.6 660.2 1121.3C668.4 1119.9 676.6 1119.6 684.9 1118.5C693.1 1117.5 697.2 1116.6 709.5 1114.9C721.8 1113.1 742.3 1110.3 758.8 1108.1C775.2 1105.9 791.6 1103.7 808.0 1101.7C824.5 1099.6 840.9 1097.9 857.3 1095.8C873.7 1093.6 890.1 1091.2 906.6 1088.9C923.0 1086.6 947.6 1083.2 955.8 1082.1" stroke="#231f20" stroke-width="3.0" fill="none" stroke-linecap="butt" stroke-linejoin="round"/>
<text x="624" y="1061.5" font-size="14.4">85°C</text>
<text x="624" y="1091.5" font-size="14.4">25°C</text>
<text x="621" y="1116.7" font-size="14.4">-40°C</text>
<text font-size="14.4" font-weight="bold" text-anchor="middle" transform="translate(574 1088) rotate(-90)">Supply Current (µA)</text>
<text x="786" y="1227" font-size="14.4" font-weight="bold" text-anchor="middle">Input Voltage (V)</text>
</svg>
</body></html>
